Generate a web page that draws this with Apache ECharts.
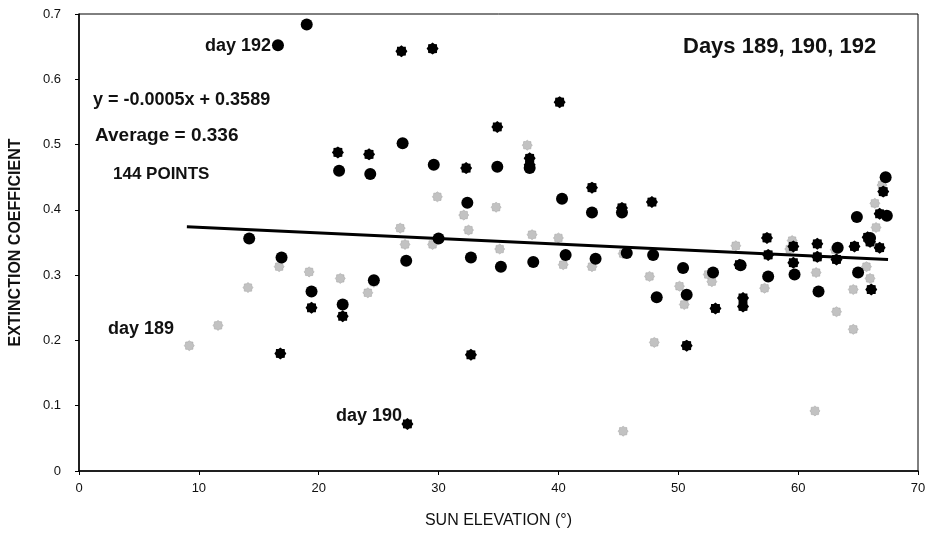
<!DOCTYPE html>
<html>
<head>
<meta charset="utf-8">
<script src="https://cdn.jsdelivr.net/npm/echarts@6/dist/echarts.min.js"></script>
<style>html,body{margin:0;padding:0;background:#fff}#c{width:936px;height:536px}</style>
</head>
<body>
<div id="c"></div>
<script>
// Day 189 (grey hatched markers): [sun elevation, extinction coefficient]
const day189 = [
  [9.2,0.192],[11.6,0.223],[14.1,0.281],[16.7,0.313],[19.2,0.305],[21.8,0.295],[24.1,0.273],[24.6,0.289],
  [26.8,0.372],[27.2,0.347],[29.5,0.347],[29.9,0.420],[32.1,0.392],[32.5,0.369],[34.8,0.404],[35.1,0.340],
  [37.4,0.499],[37.8,0.362],[40.0,0.357],[40.4,0.316],[42.8,0.313],[45.4,0.333],[45.4,0.061],[47.6,0.298],
  [48.0,0.197],[50.1,0.283],[50.5,0.255],[52.5,0.301],[52.8,0.290],[54.8,0.345],[57.2,0.280],[59.3,0.340],
  [59.5,0.353],[61.5,0.304],[61.4,0.092],[63.1,0.339],[63.2,0.244],[64.6,0.217],[64.6,0.278],[65.7,0.313],
  [66.0,0.295],[66.5,0.373],[66.4,0.410],[67.0,0.438]
];
// Day 190 (black star markers)
const day190 = [
  [16.8,0.180],[19.4,0.250],[21.6,0.488],[22.0,0.237],[24.2,0.485],[26.9,0.643],[27.4,0.072],[29.5,0.647],
  [32.3,0.464],[32.7,0.178],[34.9,0.527],[37.6,0.479],[37.6,0.469],[40.1,0.565],[42.8,0.434],[45.3,0.403],
  [47.8,0.412],[50.7,0.192],[53.1,0.249],[55.4,0.265],[55.4,0.252],[55.1,0.316],[57.4,0.357],[57.5,0.331],
  [59.6,0.344],[59.6,0.319],[61.6,0.348],[61.6,0.328],[63.2,0.324],[64.7,0.344],[66.0,0.351],[66.8,0.342],
  [66.1,0.278],[67.1,0.428],[66.8,0.394],[65.8,0.358]
];
// Day 192 (black circles)
const day192 = [
  [16.6,0.652],[19.0,0.684],[14.2,0.356],[16.9,0.327],[21.7,0.460],[24.3,0.455],[27.0,0.502],[29.6,0.469],
  [32.4,0.411],[34.9,0.466],[30.0,0.356],[37.6,0.464],[40.3,0.417],[42.8,0.396],[45.3,0.396],[19.4,0.275],
  [22.0,0.255],[24.6,0.292],[27.3,0.322],[32.7,0.327],[35.2,0.313],[37.9,0.320],[40.6,0.331],[43.1,0.325],
  [45.7,0.334],[47.9,0.331],[50.4,0.311],[48.2,0.266],[50.7,0.270],[52.9,0.304],[55.2,0.315],[57.5,0.298],
  [59.7,0.301],[61.7,0.275],[65.0,0.304],[63.3,0.342],[67.3,0.450],[64.9,0.389],[67.4,0.391],[66.0,0.357]
];
// Fitted line endpoints as drawn
const trend = [[9.0,0.374],[67.5,0.324]];
const xTicks = [0,10,20,30,40,50,60,70];
const yTicks = [0,0.1,0.2,0.3,0.4,0.5,0.6,0.7];

const starPath = 'path://M20,10L17.6,13.2L17.3,17.3L13.2,17.6L10,20L6.8,17.6L2.7,17.3L2.4,13.2L0,10L2.4,6.8L2.7,2.7L6.8,2.4L10,0L13.2,2.4L17.3,2.7L17.6,6.8Z';
const font = "'Liberation Sans', Arial, sans-serif";
const narrow = "'Liberation Sans Narrow', 'Liberation Sans', Arial, sans-serif";

const chart = echarts.init(document.getElementById('c'), null, {renderer:'canvas'});
chart.setOption({
  animation:false,
  backgroundColor:'#fff',
  grid:{left:77,right:18,top:14,bottom:65,show:true,borderColor:'#000',borderWidth:1},
  xAxis:{
    type:'value',min:0,max:70,interval:10,
    name:'SUN ELEVATION (°)',nameLocation:'middle',nameGap:42,
    nameTextStyle:{fontFamily:narrow,fontSize:16,color:'#111'},
    axisLine:{show:true,lineStyle:{color:'#000',width:1.5}},
    axisTick:{show:true,length:4,inside:false,lineStyle:{color:'#000'}},
    axisLabel:{fontFamily:narrow,fontSize:13,color:'#111',margin:11,formatter:v=>xTicks.includes(v)?String(v):''},
    splitLine:{show:false}
  },
  yAxis:{
    type:'value',min:0,max:0.7,interval:0.1,
    name:'EXTINCTION COEFFICIENT',nameLocation:'middle',nameGap:55,
    nameTextStyle:{fontFamily:font,fontSize:16,fontWeight:'bold',color:'#111'},
    axisLine:{show:true,lineStyle:{color:'#000',width:1.5}},
    axisTick:{show:true,length:4,lineStyle:{color:'#000'}},
    axisLabel:{fontFamily:font,fontSize:13,color:'#111',margin:18,
      formatter:v=>{const t=yTicks.find(a=>Math.abs(a-v)<1e-9);return t===undefined?'':(t===0?'0':t.toFixed(1));}},
    splitLine:{show:false}
  },
  series:[
    {name:'Day 189',type:'scatter',data:day189,symbol:starPath,symbolSize:10,
     itemStyle:{color:'#c2c2c2',borderColor:'#a0a0a0',borderWidth:0.5,opacity:1},z:2},
    {name:'Day 190',type:'scatter',data:day190,symbol:starPath,symbolSize:12,
     itemStyle:{color:'#000',opacity:1},z:3},
    {name:'Day 192',type:'scatter',data:day192,symbol:'circle',symbolSize:12,
     itemStyle:{color:'#000',opacity:1},z:4},
    {name:'Trend',type:'line',data:trend,symbol:'none',
     lineStyle:{color:'#000',width:3},z:5}
  ],
  graphic:[
    {type:'text',left:205,top:37,style:{text:'day 192',font:"bold 18px "+font,fill:'#111'}},
    {type:'text',left:683,top:36,style:{text:'Days 189, 190, 192',font:"bold 22px "+font,fill:'#111'}},
    {type:'text',left:93,top:91,style:{text:'y = -0.0005x + 0.3589',font:"bold 18px "+font,fill:'#111'}},
    {type:'text',left:95,top:126,style:{text:'Average = 0.336',font:"bold 19px "+font,fill:'#111'}},
    {type:'text',left:113,top:166,style:{text:'144 POINTS',font:"bold 17px "+font,fill:'#111'}},
    {type:'text',left:108,top:320,style:{text:'day 189',font:"bold 18px "+font,fill:'#111'}},
    {type:'text',left:336,top:407,style:{text:'day 190',font:"bold 18px "+font,fill:'#111'}}
  ]
});
</script>
</body>
</html>
